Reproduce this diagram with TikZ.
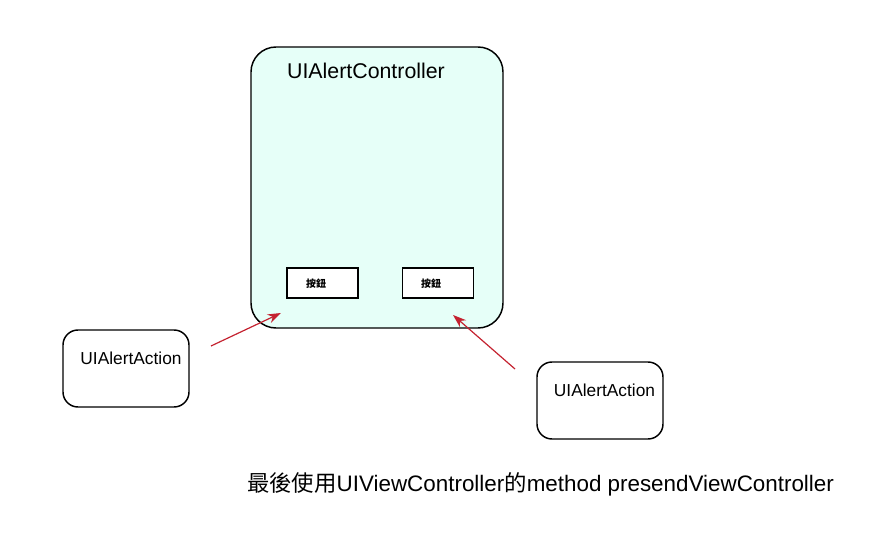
\documentclass[tikz,border=0pt]{standalone}
\usepackage{fontspec}
\setmainfont{Liberation Sans}
\newfontfamily\cjk{Noto Sans CJK TC}
\usetikzlibrary{arrows.meta}
\definecolor{boxfill}{RGB}{230,255,248}
\definecolor{arrowred}{RGB}{196,34,48}
\begin{document}
\begin{tikzpicture}[x=0.75pt,y=-0.75pt,
  bigbox/.style={draw=black,line width=1.1pt,fill=boxfill,rounded corners=18.75pt,minimum width=189pt,minimum height=210.75pt,inner sep=0pt},
  btn/.style={draw=black,line width=1pt,fill=white,minimum width=53.25pt,minimum height=22.5pt,inner sep=0pt},
  btntext/.style={font=\cjk\bfseries\fontsize{7.5pt}{9pt}\selectfont,inner sep=0pt},
  actbox/.style={draw=black,line width=1.1pt,fill=white,rounded corners=11.25pt,minimum width=94.5pt,minimum height=57.75pt,inner sep=0pt},
  acttext/.style={font=\fontsize{13pt}{15pt}\selectfont,inner sep=0pt},
  ptr/.style={draw=arrowred,line width=0.9pt,-{Stealth[length=10pt,width=7pt]}}]
\useasboundingbox (0,0) rectangle (891,559);
\node[bigbox] (ctrl) at (377,187.5) {};
\node[font=\fontsize{16pt}{19pt}\selectfont,inner sep=0pt] (title) at (366,71) {UIAlertController};
\node[btn] (b1) at (322.5,283) {};
\node[btntext] (b1t) at (316,284) {按鈕};
\node[btn] (b2) at (438,283) {};
\node[btntext] (b2t) at (431,284) {按鈕};
\node[actbox] (a1) at (126,368.5) {};
\node[acttext] (a1t) at (131,358) {UIAlertAction};
\node[actbox] (a2) at (600,400.5) {};
\node[acttext] (a2t) at (604.5,390) {UIAlertAction};
\coordinate (s1) at (211,346);
\coordinate (e1) at (281,313);
\coordinate (s2) at (515,369);
\coordinate (e2) at (453,315);
\draw[ptr] (s1) -- (e1);
\draw[ptr] (s2) -- (e2);
\node[font=\fontsize{16.8pt}{19pt}\selectfont,inner sep=0pt] (note) at (540.5,484) {{\cjk 最後使用}UIViewController{\cjk 的}method presendViewController};
\end{tikzpicture}
\end{document}
